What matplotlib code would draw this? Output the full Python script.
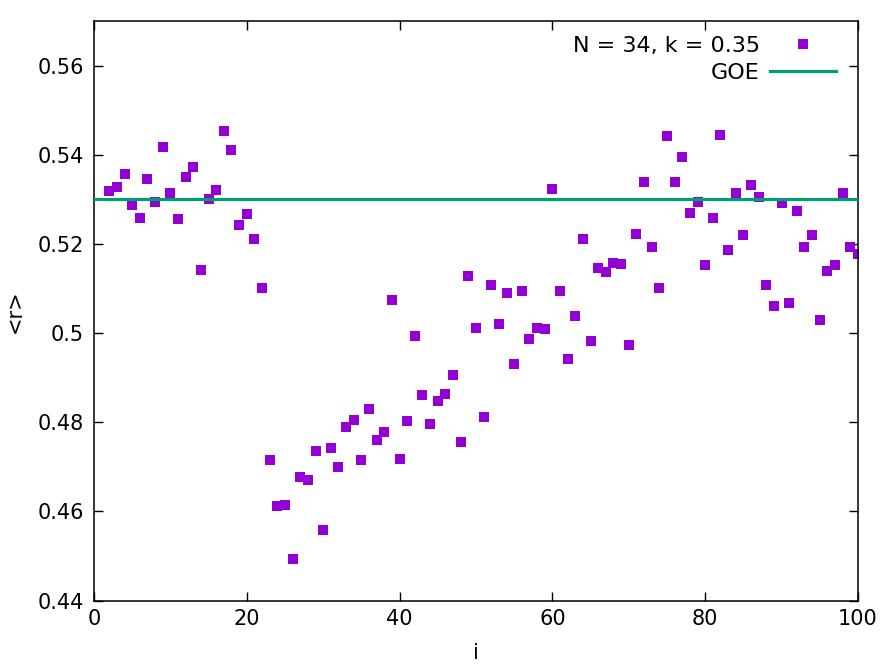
import matplotlib
matplotlib.use("Agg")
import matplotlib.pyplot as plt
import numpy as np

# Mean gap ratio <r> per index i
i_vals = np.arange(2, 101)
r_vals = [
    0.5318, 0.5327, 0.5357, 0.5288, 0.5258, 0.5345, 0.5295, 0.5417, 0.5315,
    0.5255, 0.5351, 0.5373, 0.5142, 0.5301, 0.5320, 0.5454, 0.5411, 0.5242,
    0.5267, 0.5211, 0.5101, 0.4715, 0.4612, 0.4615, 0.4493, 0.4677, 0.4670,
    0.4736, 0.4559, 0.4743, 0.4700, 0.4789, 0.4805, 0.4715, 0.4830, 0.4759,
    0.4778, 0.5074, 0.4718, 0.4802, 0.4993, 0.4861, 0.4796, 0.4848, 0.4864,
    0.4906, 0.4755, 0.5127, 0.5011, 0.4812, 0.5108, 0.5021, 0.5090, 0.4930,
    0.5095, 0.4986, 0.5012, 0.5008, 0.5323, 0.5095, 0.4941, 0.5039, 0.5211,
    0.4983, 0.5146, 0.5136, 0.5158, 0.5155, 0.4974, 0.5223, 0.5339, 0.5192,
    0.5101, 0.5442, 0.5339, 0.5395, 0.5270, 0.5295, 0.5152, 0.5257, 0.5445,
    0.5186, 0.5315, 0.5220, 0.5333, 0.5305, 0.5108, 0.5061, 0.5292, 0.5068,
    0.5274, 0.5193, 0.5220, 0.5030, 0.5140, 0.5152, 0.5315, 0.5192, 0.5177,
]
goe_value = 0.530

x_ticks = [0, 20, 40, 60, 80, 100]
y_ticks = [0.44, 0.46, 0.48, 0.50, 0.52, 0.54, 0.56]
y_tick_labels = ["0.44", "0.46", "0.48", "0.5", "0.52", "0.54", "0.56"]

plt.rcParams["font.family"] = ["DejaVu Sans"]

fig = plt.figure(figsize=(8.89, 6.67), dpi=100)
ax = fig.add_axes([0.1057, 0.0997, 0.8594, 0.8688])

ax.plot(i_vals, r_vals, linestyle="none", marker="s", markersize=6.8,
        color="#9400D3", markeredgewidth=0, label="N = 34, k = 0.35", zorder=2)
ax.axhline(goe_value, color="#009E73", linewidth=2.3, label="GOE", zorder=3)

ax.set_xlim(0, 100)
ax.set_ylim(0.44, 0.57)
ax.set_xticks(x_ticks)
ax.set_yticks(y_ticks)
ax.set_yticklabels(y_tick_labels)
ax.tick_params(direction="in", length=6.5, width=1.0, labelsize=15,
               top=True, right=True, pad=7)
ax.tick_params(axis="x", pad=6)
for sp in ax.spines.values():
    sp.set_linewidth(1.1)

ax.set_xlabel("i", fontsize=15, labelpad=10)
ax.set_ylabel("<r>", fontsize=15, labelpad=9)

ax.legend(loc="upper right", bbox_to_anchor=(0.971, 0.974), frameon=False,
          markerfirst=False, fontsize=16, handlelength=2.97,
          handletextpad=0.45, labelspacing=0.3, borderaxespad=0, borderpad=0)

fig.savefig("out.png", dpi=100)
